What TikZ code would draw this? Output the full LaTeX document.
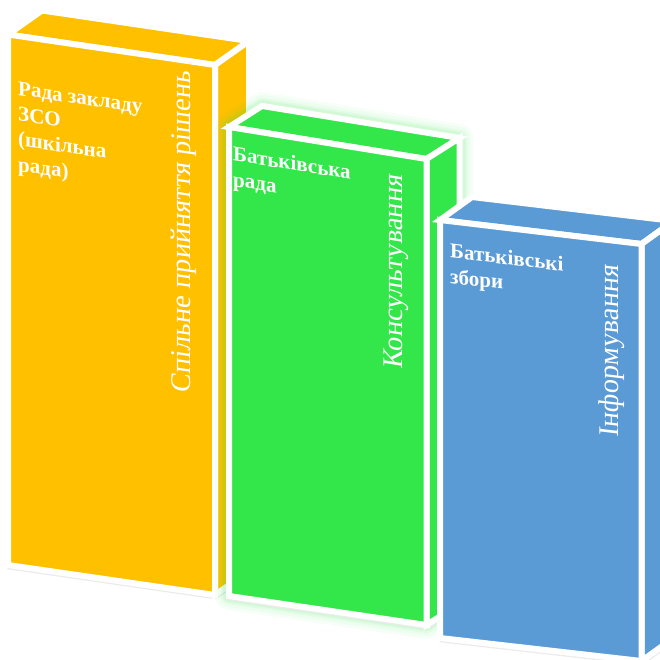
\documentclass[tikz,border=0pt]{standalone}
\usepackage{fontspec}
\setmainfont{Liberation Serif}
\definecolor{cyellow}{RGB}{255,192,0}
\definecolor{cgreen}{RGB}{51,230,74}
\definecolor{cblue}{RGB}{91,155,213}
\tikzset{
  face/.style={line width=6pt, draw=white, line join=miter, miter limit=3},
  floorshade/.style={line width=8.5pt, draw=black!8, line join=round},
  lbl/.style={text=white, font=\fontsize{21}{25.3}\selectfont\bfseries, align=left, inner sep=0pt, anchor=base west},
  vlbl/.style={text=white, font=\fontsize{28.5}{34}\selectfont, inner sep=0pt, anchor=base west},
}
\begin{document}
\begin{tikzpicture}[x=1pt,y=-1pt]
\useasboundingbox (0,0) rectangle (660,659);
\clip (0,0) rectangle (660,659);
% ---------- yellow box ----------
\coordinate (yA) at (8,34.5);
\coordinate (yB) at (215,65);
\coordinate (yC) at (215,595);
\coordinate (yD) at (8,565);
\coordinate (yBb) at (249,41);
\coordinate (yAb) at (42,10.5);
\coordinate (yCb) at (249,571);
\draw[floorshade] (yD) -- (yC) -- (yCb);
\filldraw[face, fill=cyellow] (yA) -- (yB) -- (yBb) -- (yAb) -- cycle;
\filldraw[face, fill=cyellow] (yB) -- (yBb) -- (yCb) -- (yC) -- cycle;
\filldraw[face, fill=cyellow] (yA) -- (yB) -- (yC) -- (yD) -- cycle;
% ---------- green box ----------
\coordinate (gA) at (229,127);
\coordinate (gB) at (426.5,159);
\coordinate (gC) at (426.5,625);
\coordinate (gD) at (229,596);
\coordinate (gBb) at (459.5,138);
\coordinate (gAb) at (262,106);
\coordinate (gCb) at (459.5,604);
\foreach \w/\o in {28/0.04,22/0.05,16/0.07,12/0.09}{
  \draw[line width=\w pt, draw=cgreen, opacity=\o, line join=round] (gA) -- (gAb) -- (gBb) -- (gCb) -- (gC) -- (gD) -- cycle;
}
\draw[floorshade] (gD) -- (gC) -- (gCb);
\filldraw[face, fill=cgreen] (gA) -- (gB) -- (gBb) -- (gAb) -- cycle;
\filldraw[face, fill=cgreen] (gB) -- (gBb) -- (gCb) -- (gC) -- cycle;
\filldraw[face, fill=cgreen] (gA) -- (gB) -- (gC) -- (gD) -- cycle;
% ---------- blue box ----------
\coordinate (bA) at (440,220);
\coordinate (bB) at (641.5,244);
\coordinate (bC) at (641.5,661);
\coordinate (bD) at (440,638);
\coordinate (bBb) at (673.5,221);
\coordinate (bAb) at (472,197);
\coordinate (bCb) at (673.5,638);
\draw[floorshade] (bD) -- (bC) -- (bCb);
\filldraw[face, fill=cblue] (bA) -- (bB) -- (bBb) -- (bAb) -- cycle;
\filldraw[face, fill=cblue] (bB) -- (bBb) -- (bCb) -- (bC) -- cycle;
\filldraw[face, fill=cblue] (bA) -- (bB) -- (bC) -- (bD) -- cycle;
% ---------- labels (anchored at the baseline of the last line) ----------
\node[lbl, yslant=-0.145] (yname) at (18,171) {Рада закладу\\ЗСО\\(шкільна\\рада)};
\node[vlbl, yslant=-0.145, rotate=90] (yrole) at (190,394) {Спільне прийняття рішень};
\node[lbl, yslant=-0.16] (gname) at (233,186) {Батьківська\\рада};
\node[vlbl, yslant=-0.16, rotate=90] (grole) at (402,370) {Консультування};
\node[lbl, yslant=-0.12] (bname) at (450,283) {Батьківські\\збори};
\node[vlbl, yslant=-0.12, rotate=90] (brole) at (618,438) {Інформування};
\end{tikzpicture}
\end{document}
